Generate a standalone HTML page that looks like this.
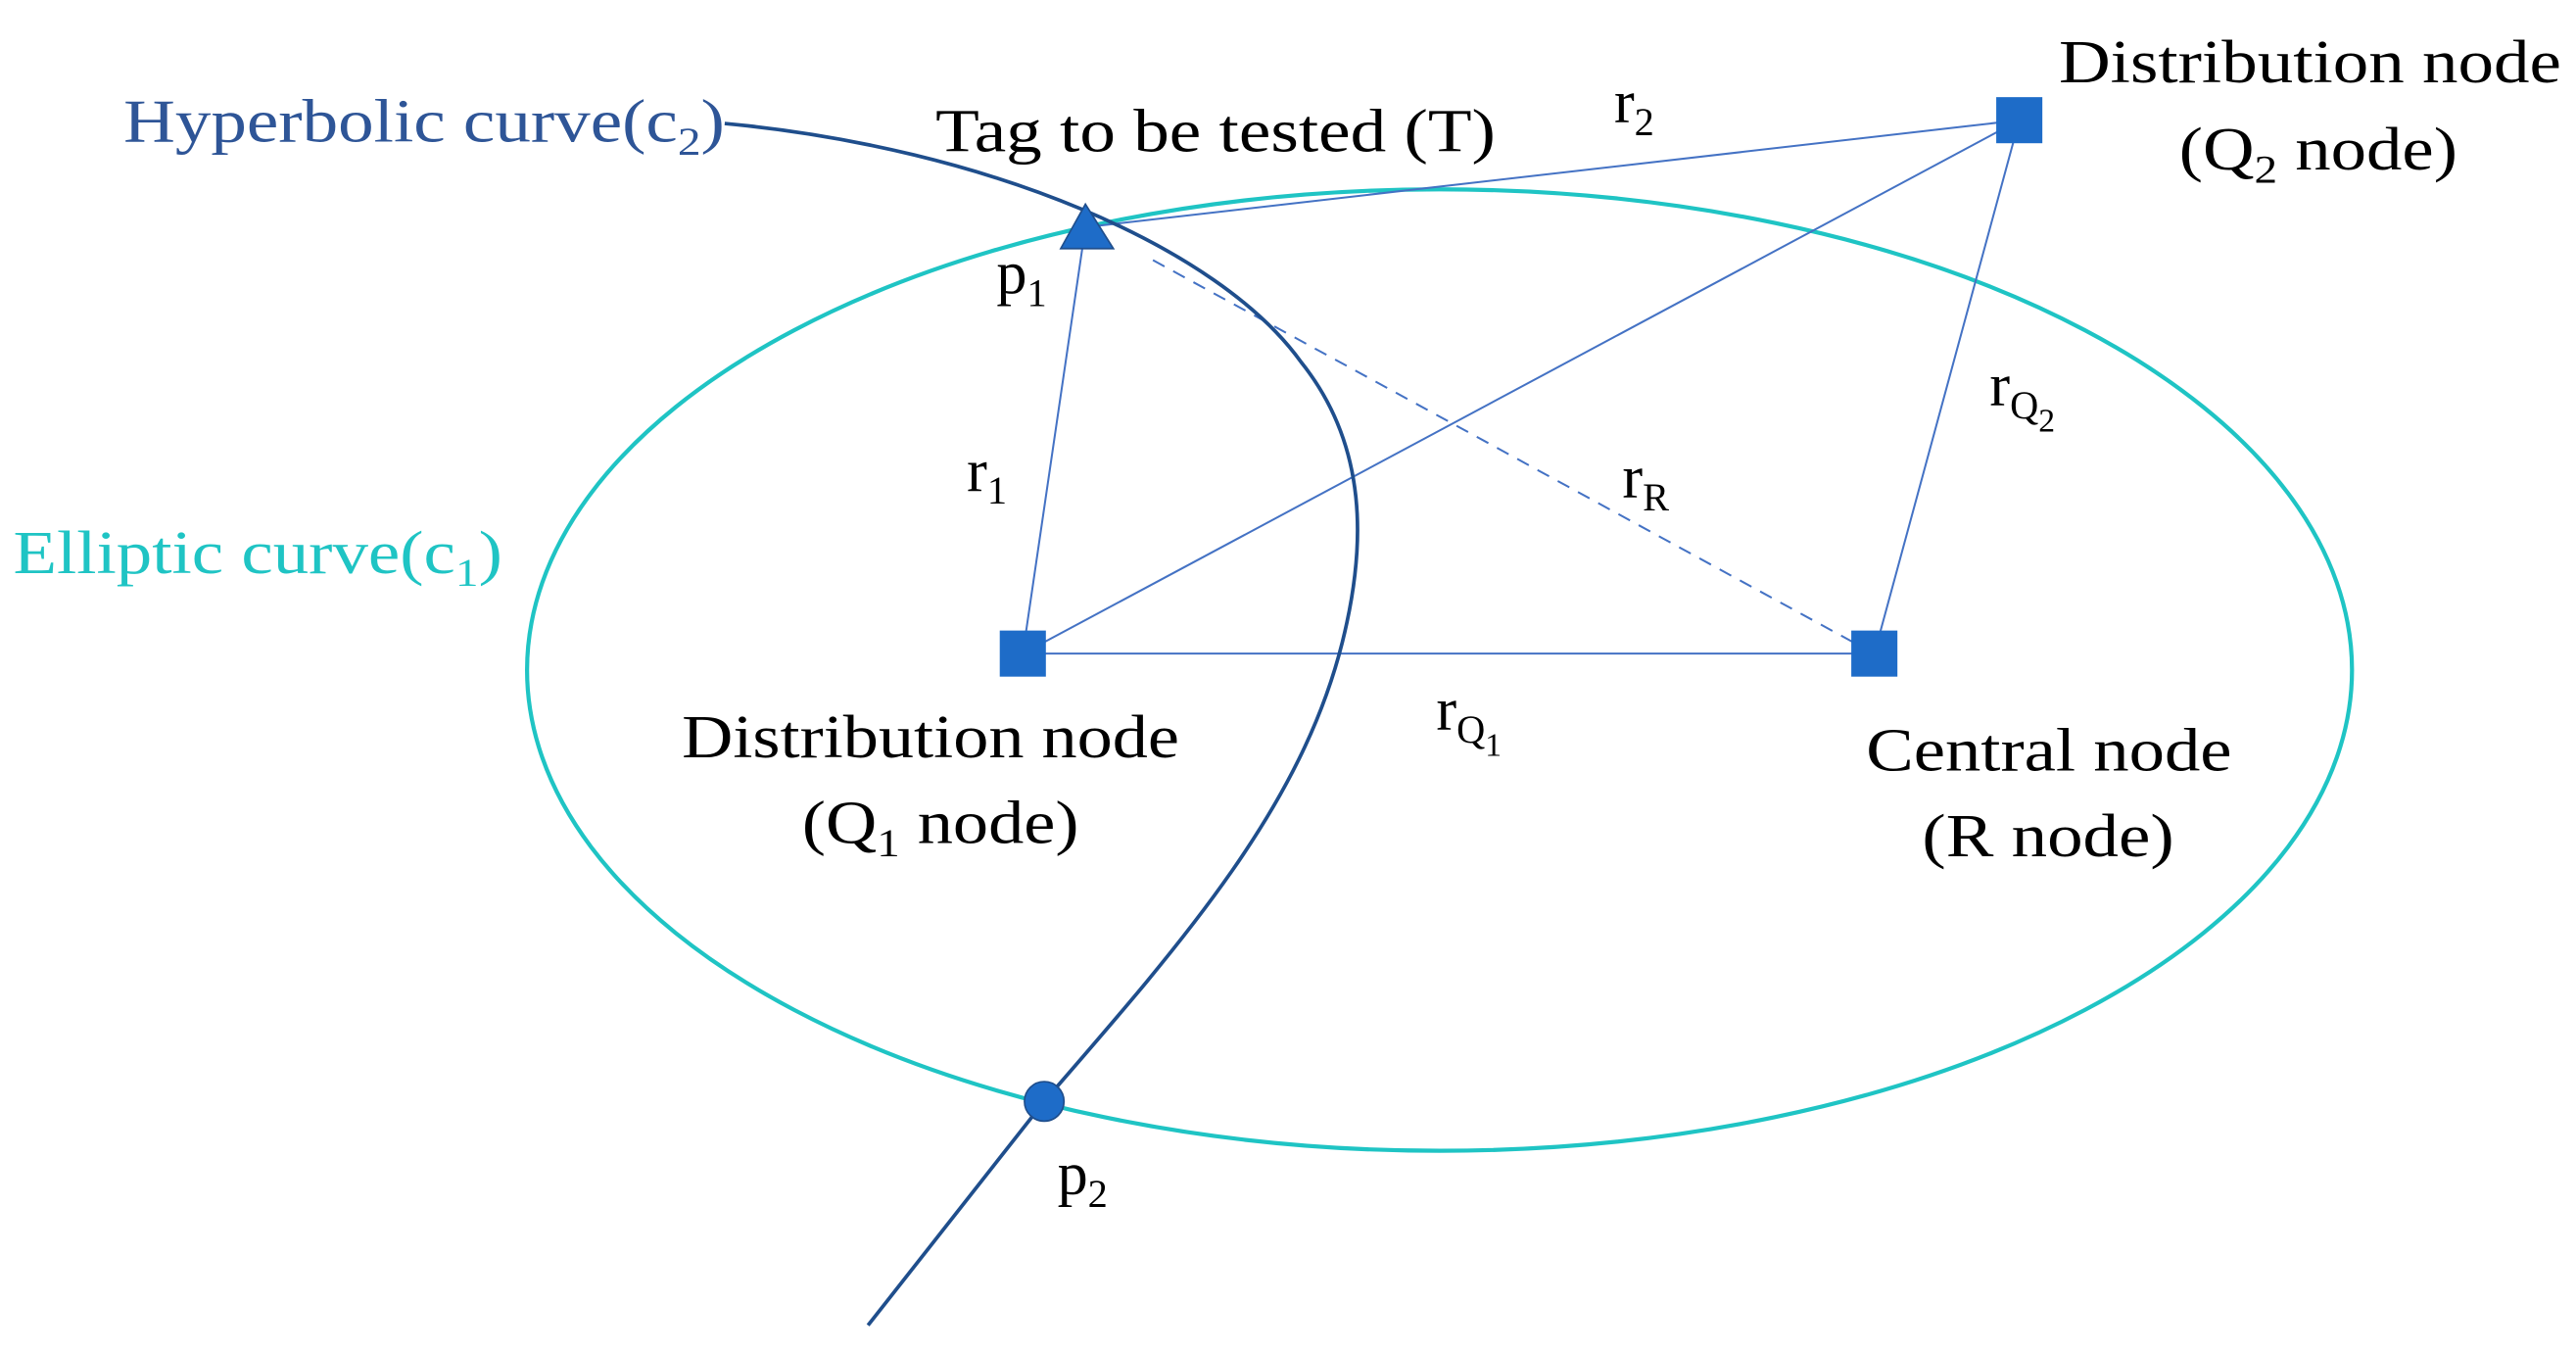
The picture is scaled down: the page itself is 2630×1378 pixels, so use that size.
<!DOCTYPE html>
<html><head><style>html,body{margin:0;padding:0;background:#fff;}svg{display:block;}</style></head>
<body>
<svg width="2630" height="1378" viewBox="0 0 1564 820" preserveAspectRatio="none" xmlns="http://www.w3.org/2000/svg" font-family="'Liberation Serif', serif" font-size="37">
<rect width="1564" height="820" fill="#fff"/>
<ellipse cx="874" cy="407" rx="554" ry="292" fill="none" stroke="#1FC4C4" stroke-width="2.5"/>
<g stroke="#4472C4" stroke-width="1.2" fill="none">
<line x1="659" y1="138" x2="1226" y2="73"/>
<line x1="659" y1="138" x2="621" y2="397"/>
<line x1="621" y1="397" x2="1226" y2="73"/>
<line x1="621" y1="397" x2="1138" y2="397"/>
<line x1="1138" y1="397" x2="1226" y2="73"/>
<line x1="700" y1="158" x2="1125" y2="390" stroke-dasharray="8,6"/>
</g>
<path d="M440,75 C600,90 740,150 790,220 C830,270 830,330 815,390 C790,490 720,570 634,669 L527,805" fill="none" stroke="#1F4E8C" stroke-width="2.2"/>
<polygon points="659,124 644,151 676,151" fill="#1E6CC8" stroke="#1F4E8C" stroke-width="1"/>
<rect x="1212" y="59" width="28" height="28" fill="#1E6CC8"/>
<rect x="607" y="383" width="28" height="28" fill="#1E6CC8"/>
<rect x="1124" y="383" width="28" height="28" fill="#1E6CC8"/>
<circle cx="634" cy="669" r="12" fill="#1E6CC8" stroke="#1F4E8C" stroke-width="1"/>
<g fill="#000">
<text x="568" y="92" textLength="340" lengthAdjust="spacingAndGlyphs">Tag to be tested (T)</text>
<text x="1250" y="50" textLength="305" lengthAdjust="spacingAndGlyphs">Distribution node</text>
<text x="1323" y="103" textLength="169" lengthAdjust="spacingAndGlyphs">(Q<tspan font-size="24" dy="8">2</tspan><tspan dy="-8"> node)</tspan></text>
<text x="980" y="74">r<tspan font-size="24" dy="8">2</tspan></text>
<text x="605" y="178">p<tspan font-size="24" dy="8">1</tspan></text>
<text x="587" y="298">r<tspan font-size="24" dy="8">1</tspan></text>
<text x="985" y="302">r<tspan font-size="24" dy="8">R</tspan></text>
<text x="1208" y="246">r<tspan font-size="24" dy="8">Q</tspan><tspan font-size="20" dy="8">2</tspan></text>
<text x="414" y="460" textLength="302" lengthAdjust="spacingAndGlyphs">Distribution node</text>
<text x="487" y="512" textLength="168" lengthAdjust="spacingAndGlyphs">(Q<tspan font-size="24" dy="8">1</tspan><tspan dy="-8"> node)</tspan></text>
<text x="872" y="443">r<tspan font-size="24" dy="8">Q</tspan><tspan font-size="20" dy="8">1</tspan></text>
<text x="1133" y="468" textLength="222" lengthAdjust="spacingAndGlyphs">Central node</text>
<text x="1167" y="520" textLength="153" lengthAdjust="spacingAndGlyphs">(R node)</text>
<text x="642" y="725">p<tspan font-size="24" dy="8">2</tspan></text>
</g>
<text x="75" y="86" fill="#2E5597" textLength="365" lengthAdjust="spacingAndGlyphs">Hyperbolic curve(c<tspan font-size="24" dy="8">2</tspan><tspan dy="-8">)</tspan></text>
<text x="8" y="348" fill="#1FC4C4" textLength="297" lengthAdjust="spacingAndGlyphs">Elliptic curve(c<tspan font-size="24" dy="8">1</tspan><tspan dy="-8">)</tspan></text>
</svg>
</body></html>
